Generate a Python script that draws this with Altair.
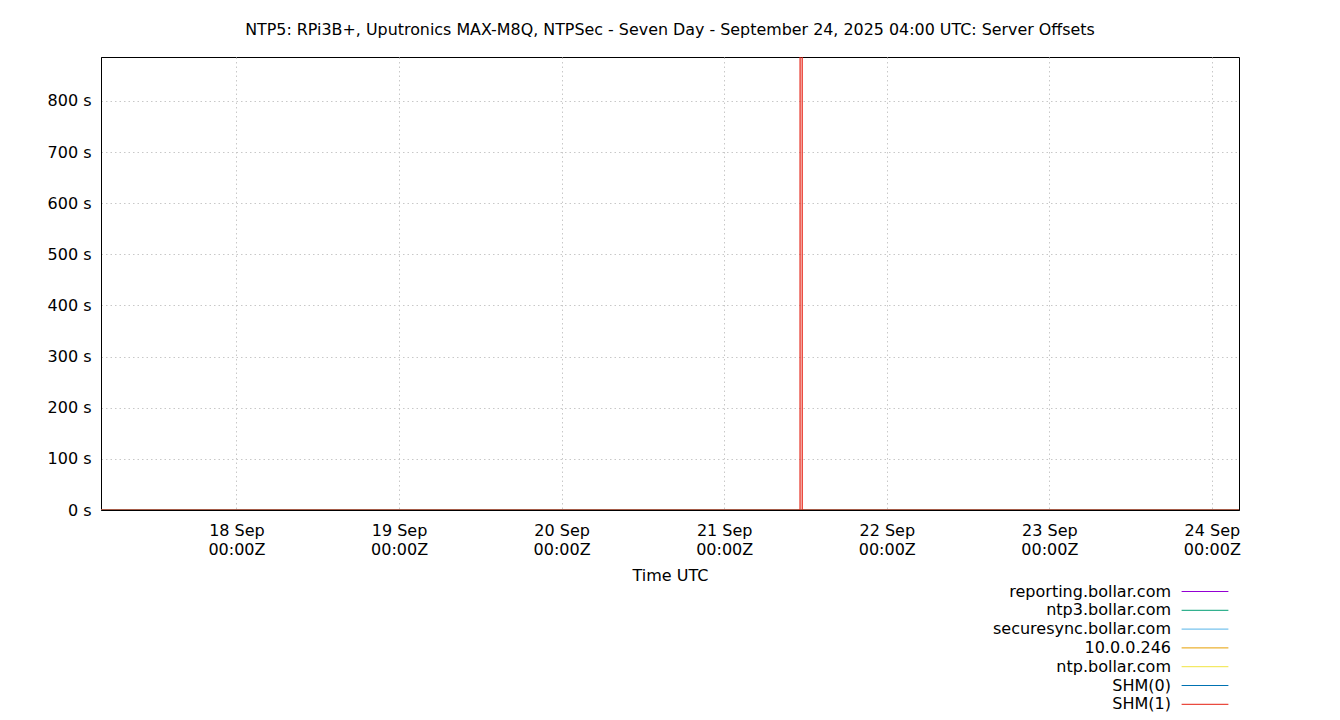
import altair as alt
import pandas as pd

title_text = "NTP5: RPi3B+, Uputronics MAX-M8Q, NTPSec - Seven Day - September 24, 2025 04:00 UTC: Server Offsets"

series_names = ["reporting.bollar.com", "ntp3.bollar.com", "securesync.bollar.com",
                "10.0.0.246", "ntp.bollar.com", "SHM(0)", "SHM(1)"]
series_colors = ["#9400d3", "#009e73", "#56b4e9", "#e69f00", "#f0e442", "#0072b2", "#e51e10"]

day_times = ["2025-09-17T04:00:00Z", "2025-09-18T04:00:00Z", "2025-09-19T04:00:00Z",
             "2025-09-20T04:00:00Z", "2025-09-21T04:00:00Z", "2025-09-22T04:00:00Z",
             "2025-09-23T04:00:00Z", "2025-09-24T04:00:00Z"]

reporting_offsets = [0.0021, 0.0018, 0.0024, 0.0019, 0.0022, 0.0020, 0.0017, 0.0023]
ntp3_offsets = [0.0012, 0.0015, 0.0011, 0.0013, 0.0016, 0.0012, 0.0014, 0.0013]
securesync_offsets = [0.0008, 0.0009, 0.0007, 0.0010, 0.0008, 0.0009, 0.0007, 0.0008]
host246_offsets = [0.0031, 0.0028, 0.0033, 0.0030, 0.0029, 0.0032, 0.0030, 0.0031]
ntpbollar_offsets = [0.0005, 0.0006, 0.0004, 0.0005, 0.0007, 0.0005, 0.0006, 0.0005]
shm0_offsets = [0.0002, 0.0001, 0.0003, 0.0002, 0.0002, 0.0001, 0.0002, 0.0002]

shm1_times = ["2025-09-17T04:00:00Z", "2025-09-18T04:00:00Z", "2025-09-19T04:00:00Z",
              "2025-09-20T04:00:00Z", "2025-09-21T04:00:00Z", "2025-09-21T11:12:00Z",
              "2025-09-21T11:13:00Z", "2025-09-21T11:30:00Z", "2025-09-21T11:31:00Z",
              "2025-09-22T04:00:00Z", "2025-09-23T04:00:00Z", "2025-09-24T04:00:00Z"]
shm1_offsets = [0.0003, 0.0002, 0.0004, 0.0003, 0.0003, 0.0004,
                2400.0, 2400.0, 0.0004, 0.0003, 0.0002, 0.0003]

y_ticks = [0, 100, 200, 300, 400, 500, 600, 700, 800]
y_domain = [0, 886]
x_domain = ["2025-09-17T04:00:00Z", "2025-09-24T04:00:00Z"]

rows = []
for name, vals in zip(series_names[:6], [reporting_offsets, ntp3_offsets, securesync_offsets,
                                          host246_offsets, ntpbollar_offsets, shm0_offsets]):
    for t, v in zip(day_times, vals):
        rows.append({"series": name, "time": t, "offset": v})
for t, v in zip(shm1_times, shm1_offsets):
    rows.append({"series": "SHM(1)", "time": t, "offset": v})
df = pd.DataFrame(rows)
df["order"] = df["series"].map({n: i for i, n in enumerate(series_names)})

FONT = "DejaVu Sans"

chart = alt.Chart(df).mark_line(strokeWidth=1.2, clip=True).encode(
    x=alt.X("time:T",
            scale=alt.Scale(type="utc", domain=x_domain, nice=False),
            axis=alt.Axis(title="Time UTC",
                          tickCount={"interval": "day", "step": 1},
                          labelExpr="[utcFormat(datum.value, '%d %b'), utcFormat(datum.value, '%H:%M') + 'Z']",
                          labelLineHeight=19, labelPadding=12, titlePadding=10)),
    y=alt.Y("offset:Q",
            scale=alt.Scale(domain=y_domain, nice=False, zero=False),
            axis=alt.Axis(title=None, values=y_ticks, labelExpr="datum.value + ' s'",
                          labelPadding=10)),
    color=alt.Color("series:N",
                    scale=alt.Scale(domain=series_names, range=series_colors),
                    legend=alt.Legend(orient="none", legendX=1096, legendY=526.5, title=None,
                                      symbolType="M-5.2,0H5.2", symbolSize=81,
                                      symbolStrokeWidth=1, symbolOpacity=1, labelAlign="right",
                                      labelOffset={"expr": "-42"}, labelFontSize=16, labelFont=FONT,
                                      labelColor="black", rowPadding=2.8, labelLimit=0)),
    order=alt.Order("order:Q"),
    detail="series:N",
).properties(
    width=1138, height=453,
    background="white",
    title=alt.TitleParams(title_text, fontSize=15.9, font=FONT, fontWeight="normal",
                          anchor="middle", offset=19, color="black"),
    autosize=alt.AutoSizeParams(type="none"),
    padding={"left": 93, "top": 49, "right": 93, "bottom": 202},
).configure_view(
    stroke="black", strokeWidth=1
).configure_axis(
    labelFont=FONT, titleFont=FONT, labelFontSize=16, titleFontSize=16,
    titleFontWeight="normal", labelColor="black", titleColor="black",
    domainColor="black", ticks=False, grid=True, gridColor="#c8c8c8",
    gridDash=[1.5, 3], gridWidth=1
)

chart.save("out.html", embed_options={"renderer": "svg", "actions": False})
